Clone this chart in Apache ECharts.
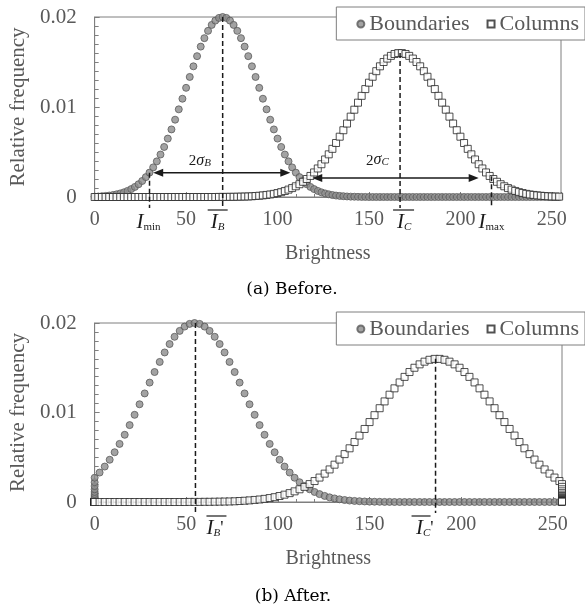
<!DOCTYPE html>
<html>
<head>
<meta charset="utf-8">
<script src="https://cdn.jsdelivr.net/npm/echarts@6/dist/echarts.min.js"></script>
<style>
    html, body { margin: 0; padding: 0; background: #fff; }
    #chart { width: 585px; height: 613px; }
</style>
</head>
<body>
<div id="chart"></div>
<script>
// brightness bins (every 2 levels) before stretching
const brightness = [0,2,4,6,8,10,12,14,16,18,20,22,24,26,28,30,32,34,36,38,40,42,44,46,48,50,52,54,56,58,60,62,64,66,68,70,72,74,76,78,80,82,84,86,88,90,92,94,96,98,100,102,104,106,108,110,112,114,116,118,120,122,124,126,128,130,132,134,136,138,140,142,144,146,148,150,152,154,156,158,160,162,164,166,168,170,172,174,176,178,180,182,184,186,188,190,192,194,196,198,200,202,204,206,208,210,212,214,216,218,220,222,224,226,228,230,232,234,236,238,240,242,244,246,248,250,252,254];
// same bins after stretching (values below I_min pile at 0, above I_max at 255)
const brightnessAfter = [0,0,0,0,0,0,0,0,0,0,0,0,0,0,0,0,
    2.7,5.5,8.2,10.9,13.6,16.4,19.1,21.8,24.5,27.3,30.0,32.7,35.5,38.2,40.9,43.6,46.4,49.1,51.8,54.5,
    57.3,60.0,62.7,65.5,68.2,70.9,73.6,76.4,79.1,81.8,84.5,87.3,90.0,92.7,95.5,98.2,100.9,103.6,106.4,109.1,
    111.8,114.5,117.3,120.0,122.7,125.5,128.2,130.9,133.6,136.4,139.1,141.8,144.5,147.3,150.0,152.7,155.5,158.2,160.9,163.6,
    166.4,169.1,171.8,174.5,177.3,180.0,182.7,185.5,188.2,190.9,193.6,196.4,199.1,201.8,204.5,207.3,210.0,212.7,215.5,218.2,
    220.9,223.6,226.4,229.1,231.8,234.5,237.3,240.0,242.7,245.5,248.2,250.9,253.6,
    255,255,255,255,255,255,255,255,255,255,255,255,255,255,255,255,255,255,255];
const boundaries = [0.00004,0.00006,0.00009,0.00012,0.00016,0.00022,0.00030,0.00040,0.00052,0.00068,
    0.00088,0.00112,0.00142,0.00178,0.00221,0.00271,0.00329,0.00396,0.00472,0.00556,
    0.00649,0.00751,0.00859,0.00974,0.01092,0.01213,0.01334,0.01452,0.01565,0.01671,
    0.01765,0.01846,0.01912,0.01960,0.01990,0.02000,0.01990,0.01960,0.01912,0.01846,
    0.01765,0.01671,0.01565,0.01452,0.01334,0.01213,0.01092,0.00974,0.00859,0.00751,
    0.00649,0.00556,0.00472,0.00396,0.00329,0.00271,0.00221,0.00178,0.00142,0.00112,
    0.00088,0.00068,0.00052,0.00040,0.00030,0.00022,0.00016,0.00012,0.00009,0.00006,
    0.00004,0.00003,0.00002,0.00001,0.00001,
    0,0,0,0,0,0,0,0,0,0,0,0,0,0,0,0,0,0,0,0,0,0,0,0,0,0,0,0,0,0,0,0,0,0,0,0,0,0,0,0,0,0,0,0,0,0,0,0,0,0,0,0,0];
const columns = [0,0,0,0,0,0,0,0,0,0,0,0,0,0,0,0,0,0,0,0,0,0,0,0,0,0,0,0,0,0,0,0,0,0,
    0.00001,0.00001,0.00001,0.00002,0.00002,0.00003,0.00004,0.00005,0.00006,0.00008,
    0.00011,0.00014,0.00018,0.00023,0.00028,0.00035,0.00044,0.00054,0.00067,0.00082,
    0.00099,0.00119,0.00142,0.00169,0.00200,0.00234,0.00273,0.00317,0.00364,0.00417,
    0.00474,0.00535,0.00600,0.00670,0.00742,0.00816,0.00893,0.00970,0.01048,0.01124,
    0.01199,0.01270,0.01336,0.01398,0.01452,0.01500,0.01538,0.01568,0.01589,0.01599,
    0.01599,0.01589,0.01568,0.01538,0.01500,0.01452,0.01398,0.01336,0.01270,0.01199,
    0.01124,0.01048,0.00970,0.00893,0.00816,0.00742,0.00670,0.00600,0.00535,0.00474,
    0.00417,0.00364,0.00317,0.00273,0.00234,0.00200,0.00169,0.00142,0.00119,0.00099,
    0.00082,0.00067,0.00054,0.00044,0.00035,0.00028,0.00023,0.00018,0.00014,0.00011,
    0.00008,0.00006,0.00005,0.00004];
const seriesNames = ['Boundaries', 'Columns'];
const captions = ['(a) Before.', '(b) After.'];
// annotation positions in data units: [brightness, height of dashed line]
const cutsBefore = [[30, 0.0027], [70, 0.02], [167, 0.016], [217, 0.0023]];
const cutsAfter = [[55, 0.02], [186, 0.016]];
// 2-sigma spans: [from, to, level]
const spans = [[32, 107, 0.0027], [119, 210, 0.0021]];

const serif = 'Liberation Serif';
const grey = '#595959';
const ink = '#1a1a1a';

const pairs = function (xs, ys) {
    return xs.map(function (x, i) { return [x, ys[i]]; });
};

const makeX = function (g) {
    return {
        type: 'value', gridIndex: g, min: 0, max: 255, interval: 50,
        axisLine: { lineStyle: { color: '#7f7f7f' } },
        axisTick: { inside: true, length: 5, lineStyle: { color: '#7f7f7f' } },
        minorTick: { show: true, splitNumber: 5, length: 3, lineStyle: { color: '#7f7f7f' } },
        splitLine: { show: false },
        axisLabel: {
            margin: 13, color: grey, fontFamily: serif, fontSize: 20,
            formatter: function (v) { return v % 50 === 0 ? String(v) : ''; }
        },
        name: 'Brightness', nameLocation: 'middle', nameGap: 47,
        nameTextStyle: { color: grey, fontFamily: serif, fontSize: 20 }
    };
};
const makeY = function (g) {
    return {
        type: 'value', gridIndex: g, min: 0, max: 0.02, interval: 0.01,
        axisLine: { show: true, lineStyle: { color: '#7f7f7f' } },
        axisTick: { show: true, inside: true, length: 5, lineStyle: { color: '#7f7f7f' } },
        minorTick: { show: true, splitNumber: 10, length: 4, lineStyle: { color: '#7f7f7f' } },
        splitLine: { show: false },
        axisLabel: { margin: 18, color: grey, fontFamily: serif, fontSize: 21 },
        name: 'Relative frequency', nameLocation: 'middle', nameGap: 62,
        nameTextStyle: { color: grey, fontFamily: serif, fontSize: 21 }
    };
};
const makeLegend = function (top) {
    return {
        top: top, right: 0, orient: 'horizontal', selectedMode: false,
        data: [{ name: seriesNames[0], icon: 'circle' }, { name: seriesNames[1], icon: 'rect' }],
        itemWidth: 7, itemHeight: 7, itemGap: 17,
        padding: [6, 6, 5, 20],
        borderColor: '#7f7f7f', borderWidth: 1, backgroundColor: '#fff',
        textStyle: { color: grey, fontFamily: serif, fontSize: 22 }
    };
};
const dotStyle = { color: '#8c8c8c', borderColor: '#5a5a5a', borderWidth: 1 };
const boxStyle = { color: '#fff', borderColor: '#262626', borderWidth: 1 };
const makeSeries = function (g, xs) {
    return [
        { name: seriesNames[0], type: 'scatter', xAxisIndex: g, yAxisIndex: g, symbol: 'circle', symbolSize: 7,
            itemStyle: dotStyle, silent: true, z: 2, data: pairs(xs, boundaries) },
        { name: seriesNames[1], type: 'scatter', xAxisIndex: g, yAxisIndex: g, symbol: 'rect', symbolSize: 7,
            itemStyle: boxStyle, silent: true, z: 3, data: pairs(xs, columns) }
    ];
};

var chart = echarts.init(document.getElementById('chart'));
chart.setOption({
    animation: false,
    backgroundColor: '#fff',
    grid: [
        { left: 91, top: 17, width: 470, height: 180, show: true, borderColor: '#7f7f7f', borderWidth: 1 },
        { left: 92, top: 323, width: 470, height: 179, show: true, borderColor: '#7f7f7f', borderWidth: 1 }
    ],
    xAxis: [makeX(0), makeX(1)],
    yAxis: [makeY(0), makeY(1)],
    legend: [makeLegend(7), makeLegend(312)],
    series: makeSeries(0, brightness).concat(makeSeries(1, brightnessAfter))
});

// annotations, placed through the axes
const px = function (g, x, y) {
    return chart.convertToPixel({ gridIndex: g }, [x, y]);
};
const rich = {
    i: { fontSize: 21, fontStyle: 'italic', fontFamily: serif, fill: ink, verticalAlign: 'bottom' },
    s: { fontSize: 11, fontStyle: 'italic', fontFamily: serif, fill: ink, verticalAlign: 'bottom' },
    r: { fontSize: 11, fontFamily: serif, fill: ink, verticalAlign: 'bottom' },
    p: { fontSize: 18, fontFamily: serif, fill: ink, verticalAlign: 'bottom' },
    n: { fontSize: 15, fontFamily: serif, fill: ink, verticalAlign: 'bottom' },
    g: { fontSize: 16, fontStyle: 'italic', fontFamily: serif, fill: ink, verticalAlign: 'bottom' }
};
const dashed = function (g, c) {
    var a = px(g, c[0], c[1]), b = px(g, c[0], 0);
    return { type: 'line', z: 20, silent: true, shape: { x1: a[0], y1: a[1], x2: b[0], y2: b[1] + 11 },
        style: { stroke: ink, lineWidth: 1.5, lineDash: [5, 3] } };
};
const arrow = function (g, s) {
    var a = px(g, s[0], s[2]), b = px(g, s[1], s[2]);
    return [
        { type: 'line', z: 20, silent: true, shape: { x1: a[0] + 6, y1: a[1], x2: b[0] - 6, y2: b[1] },
            style: { stroke: ink, lineWidth: 1.5 } },
        { type: 'polygon', z: 20, silent: true, shape: { points: [[a[0], a[1]], [a[0] + 10, a[1] - 4], [a[0] + 10, a[1] + 4]] },
            style: { fill: ink } },
        { type: 'polygon', z: 20, silent: true, shape: { points: [[b[0], b[1]], [b[0] - 10, b[1] - 4], [b[0] - 10, b[1] + 4]] },
            style: { fill: ink } }
    ];
};
const label = function (x, y, text, align) {
    return { type: 'text', z: 20, silent: true, x: x, y: y,
        style: { text: text, rich: rich, align: align || 'center', verticalAlign: 'middle', fill: ink } };
};
const bar = function (x1, x2, y) {
    return { type: 'line', z: 20, silent: true, shape: { x1: x1, y1: y, x2: x2, y2: y },
        style: { stroke: ink, lineWidth: 1.2 } };
};

var els = [];
cutsBefore.forEach(function (c) { els.push(dashed(0, c)); });
cutsAfter.forEach(function (c) { els.push(dashed(1, c)); });
spans.forEach(function (s) { els = els.concat(arrow(0, s)); });

var y0 = px(0, 0, 0)[1] + 25, y1 = px(1, 0, 0)[1] + 26;
var p;
p = px(0, cutsBefore[0][0], 0); els.push(label(p[0] - 1, y0, '{i|I}{r|min}'));
p = px(0, cutsBefore[1][0], 0); els.push(label(p[0] - 5, y0, '{i|I}{s|B}'), bar(p[0] - 15, p[0] + 5, y0 - 12));
p = px(0, cutsBefore[2][0], 0); els.push(label(p[0] + 4, y0, '{i|I}{s|C}'), bar(p[0] - 7, p[0] + 14, y0 - 12));
p = px(0, cutsBefore[3][0], 0); els.push(label(p[0], y0, '{i|I}{r|max}'));
p = px(1, cutsAfter[0][0], 0); els.push(label(p[0] + 11, y1, '{i|I}{s|B}{p|\'}', 'left'), bar(p[0] + 11, p[0] + 31, y1 - 12));
p = px(1, cutsAfter[1][0], 0); els.push(label(p[0] - 2, y1, '{i|I}{s|C}{p|\'}', 'right'), bar(p[0] - 24, p[0] - 5, y1 - 12));

p = px(0, 57.5, 0.0040); els.push(label(p[0], p[1], '{n|2}{g|σ}{s|B}'));
p = px(0, 154.6, 0.0041); els.push(label(p[0], p[1], '{n|2}{g|σ}{s|C}'));

els.push(
    { type: 'text', x: 292, y: 290, style: { text: captions[0], fontFamily: 'DejaVu Serif', fontSize: 17, fill: '#000', align: 'center', verticalAlign: 'middle' } },
    { type: 'text', x: 293, y: 597, style: { text: captions[1], fontFamily: 'DejaVu Serif', fontSize: 17, fill: '#000', align: 'center', verticalAlign: 'middle' } }
);

chart.setOption({ graphic: els });
</script>
</body>
</html>
